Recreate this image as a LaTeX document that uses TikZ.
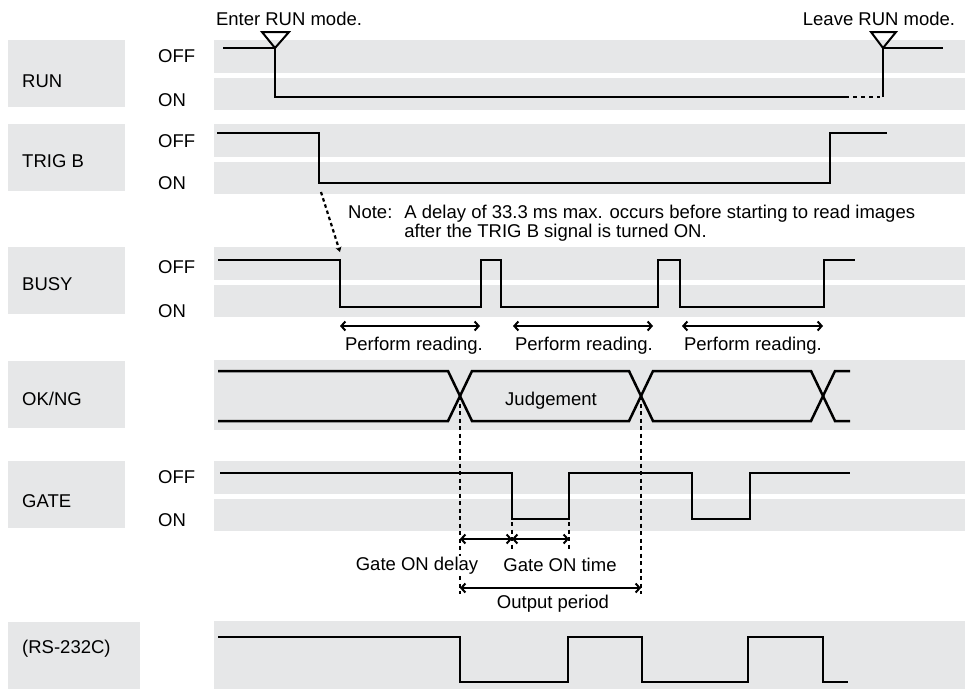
\documentclass[tikz,border=0pt]{standalone}
\usepackage{fontspec}
\setmainfont{Liberation Sans}
\usetikzlibrary{arrows.meta}
\definecolor{bandgray}{RGB}{230,231,232}

\begin{document}
\begin{tikzpicture}[x=1pt,y=-1pt,font=\fontsize{18.5}{19.5}\selectfont,
  band/.style={fill=bandgray},
  sig/.style={line width=2.5pt},
  txt/.style={inner sep=0pt,anchor=base},
  lefttxt/.style={inner sep=0pt,anchor=base west},
  guide/.style={line width=2.2pt,dash pattern=on 4pt off 3.5pt},
  span/.style={line width=2pt,{Straight Barb[length=4pt,width=9pt]}-{Straight Barb[length=4pt,width=9pt]}},
  modemark/.style={line width=2pt}]
\useasboundingbox (0,0) rectangle (965,689);

% gray bands
\foreach \t in {40,124,247,461} {
  \fill[band] (214,\t) rectangle (965,\t+33);
  \fill[band] (214,\t+38) rectangle (965,\t+70);
  \fill[band] (8,\t) rectangle (125,\t+67);
}
\fill[band] (214,360) rectangle (965,430);
\fill[band] (8,361) rectangle (125,428);
\fill[band] (214,621) rectangle (965,689);
\fill[band] (8,622) rectangle (140,689);

% signal names
\node[lefttxt] (run) at (22,87) {RUN};
\node[lefttxt] (trig) at (22,167) {TRIG B};
\node[lefttxt] (busy) at (22,290) {BUSY};
\node[lefttxt] (okng) at (22,405) {OK/NG};
\node[lefttxt] (gate) at (22,507) {GATE};
\node[lefttxt] (rs) at (22,653) {(RS-232C)};

% levels
\node[lefttxt] (runoff) at (158,62) {OFF};
\node[lefttxt] (runon) at (158,106) {ON};
\node[lefttxt] (trigoff) at (158,147) {OFF};
\node[lefttxt] (trigon) at (158,189) {ON};
\node[lefttxt] (busyoff) at (158,273) {OFF};
\node[lefttxt] (busyon) at (158,317) {ON};
\node[lefttxt] (gateoff) at (158,483) {OFF};
\node[lefttxt] (gateon) at (158,526) {ON};

% RUN
\draw[sig] (223,48) -- (275,48) -- (275,97) -- (845,97);
\draw[sig,dash pattern=on 4pt off 4pt] (845,97) -- (880,97);
\draw[sig] (883,97) -- (883,48) -- (943,48);
\draw[modemark] (262,32) -- (289,32) -- (275,48) -- cycle;
\draw[modemark] (871,32) -- (896,32) -- (883,48) -- cycle;
\node[txt] (enter) at (289,25) {Enter RUN mode.};
\node[txt] (leave) at (879,25) {Leave RUN mode.};

% TRIG B
\draw[sig] (217,133) -- (319,133) -- (319,183) -- (830,183) -- (830,133) -- (887,133);

% delay note
\coordinate (tfall) at (321,192);
\coordinate (bfall) at (340,252);
\draw[line width=2.2pt,dash pattern=on 3.5pt off 3pt,-{Stealth[length=5pt,width=6pt]}] (tfall) -- (bfall);
\node[anchor=base west,inner sep=0pt,align=left] (note) at (348,218)
  {\begin{tabular}[t]{@{}l@{\hspace{12pt}}l@{}}
   Note: & A delay of 33.3 ms max. occurs before starting to read images\\
         & after the TRIG B signal is turned ON.
   \end{tabular}};

% BUSY
\draw[sig] (218,260) -- (340,260) -- (340,307) -- (481,307) -- (481,260) -- (501,260)
  -- (501,307) -- (658,307) -- (658,260) -- (680,260) -- (680,307) -- (824,307)
  -- (824,260) -- (855,260);
\draw[span] (340,326) -- (480,326);
\draw[span] (513,326) -- (653,326);
\draw[span] (682,326) -- (823,326);
\node[txt] (read1) at (414,350) {Perform reading.};
\node[txt] (read2) at (584,350) {Perform reading.};
\node[txt] (read3) at (753,350) {Perform reading.};

% OK/NG
\draw[sig] (218,371) -- (448,371) -- (472,421) -- (629,421) -- (653,371) -- (811,371)
  -- (835,421) -- (850,421);
\draw[sig] (218,421) -- (448,421) -- (472,371) -- (629,371) -- (653,421) -- (811,421)
  -- (835,371) -- (850,371);
\node[txt] (judge) at (551,405) {Judgement};

% GATE
\draw[sig] (220,473) -- (512,473) -- (512,519) -- (569,519) -- (569,473) -- (692,473)
  -- (692,519) -- (750,519) -- (750,473) -- (850,473);

% timing guides
\coordinate (x1) at (460,396);
\coordinate (x2) at (641,396);
\coordinate (d1) at (460,539);
\coordinate (d2) at (512,539);
\coordinate (d3) at (569,539);
\coordinate (p1) at (460,588);
\coordinate (p2) at (641,588);
\draw[guide] (x1) -- (460,594);
\draw[guide] (x2) -- (641,594);
\draw[guide] (512,522) -- (512,550);
\draw[guide] (569,522) -- (569,550);
\draw[span] (d1) -- (d2);
\draw[span] (d2) -- (d3);
\draw[span] (p1) -- (p2);
\node[txt,fill=white,inner sep=1pt] (delay) at (417,570) {Gate ON delay};
\node[txt] (ontime) at (560,571) {Gate ON time};
\node[txt] (period) at (553,608) {Output period};

% RS-232C
\draw[sig] (218,637) -- (460,637) -- (460,682) -- (568,682) -- (568,637) -- (642,637)
  -- (642,682) -- (748,682) -- (748,637) -- (823,637) -- (823,682) -- (848,682);
\end{tikzpicture}
\end{document}
